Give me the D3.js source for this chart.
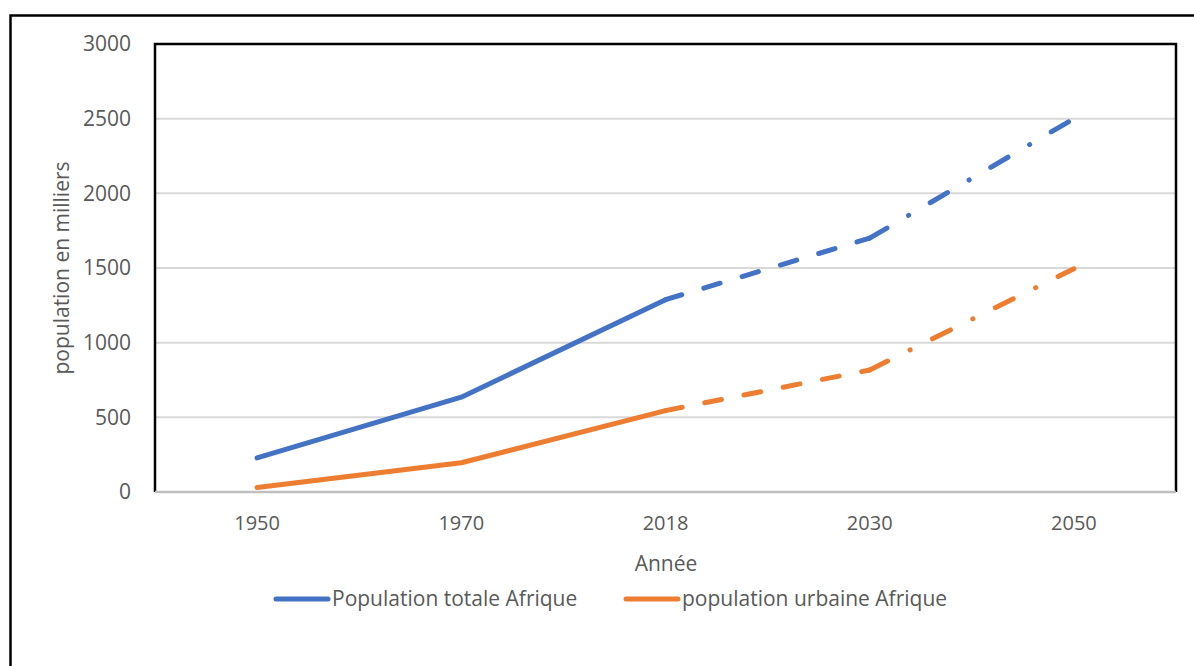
<!DOCTYPE html>
<html>
<head>
    <meta charset="utf-8"/>
    <style>
        body { margin: 0; background: #fff; }
        svg text { font-family: "Open Sans", "Noto Sans", sans-serif; fill: #595959; }
    </style>
</head>
<body>
<div id="chart"></div>
<script src="https://cdn.jsdelivr.net/npm/d3@7"></script>
<script type="text/javascript">

    // data
    var years = ["1950", "1970", "2018", "2030", "2050"];
    var totale = [228, 635, 1288, 1700, 2500];
    var urbaine = [30, 196, 545, 817, 1495];
    var yTicks = [0, 500, 1000, 1500, 2000, 2500, 3000];
    var seriesNames = ["Population totale Afrique", "population urbaine Afrique"];
    var colors = ["#4472C4", "#ED7D31"];

    var w = 1194;
    var h = 666;
    var plotLeft = 155, plotRight = 1176, plotTop = 44, plotBottom = 492;

    var svg = d3.select("#chart")
        .append("svg")
        .attr("width", w)
        .attr("height", h);

    // outer frame
    svg.append("rect")
        .attr("x", 10.5).attr("y", 15.5)
        .attr("width", 1300).attr("height", 800)
        .attr("fill", "none")
        .attr("stroke", "#000")
        .attr("stroke-width", 2.5);

    var xScale = d3.scaleBand()
        .domain(years)
        .range([plotLeft, plotRight]);

    var yScale = d3.scaleLinear()
        .domain([0, 3000])
        .range([plotBottom, plotTop]);

    function cx(i) {
        return xScale(years[i]) + xScale.bandwidth() / 2;
    }

    // gridlines
    svg.append("g")
        .selectAll("line")
        .data(yTicks.slice(1))
        .enter()
        .append("line")
        .attr("x1", plotLeft).attr("x2", plotRight)
        .attr("y1", function (d) { return yScale(d); })
        .attr("y2", function (d) { return yScale(d); })
        .attr("stroke", "#d9d9d9")
        .attr("stroke-width", 2);

    // plot border (left, top, right)
    svg.append("path")
        .attr("d", "M" + plotLeft + "," + plotBottom + "V" + plotTop + "H" + plotRight + "V" + plotBottom)
        .attr("fill", "none")
        .attr("stroke", "#000")
        .attr("stroke-width", 2.5);

    // x axis line
    svg.append("line")
        .attr("x1", plotLeft).attr("x2", plotRight)
        .attr("y1", plotBottom).attr("y2", plotBottom)
        .attr("stroke", "#bfbfbf")
        .attr("stroke-width", 2.5);

    // y tick labels
    var yAxis = d3.axisLeft(yScale).tickValues(yTicks).tickFormat(d3.format("d"))
        .tickSize(0).tickPadding(24);
    var gy = svg.append("g")
        .attr("transform", "translate(" + plotLeft + ",0)")
        .call(yAxis);
    gy.select(".domain").remove();
    gy.selectAll("text").attr("font-size", 21).attr("fill", "#595959")
        .attr("font-family", "Open Sans");

    // x tick labels
    var xAxis = d3.axisBottom(xScale).tickSize(0).tickPadding(24);
    var gx = svg.append("g")
        .attr("transform", "translate(0," + plotBottom + ")")
        .call(xAxis);
    gx.select(".domain").remove();
    gx.selectAll("text").attr("font-size", 20).attr("fill", "#595959")
        .attr("font-family", "Open Sans");

    // axis titles
    svg.append("text")
        .attr("x", 666).attr("y", 571)
        .attr("text-anchor", "middle")
        .attr("font-size", 21)
        .text("Année");

    svg.append("text")
        .attr("transform", "translate(69,268) rotate(-90)")
        .attr("text-anchor", "middle")
        .attr("font-size", 21)
        .text("population en milliers");

    // line segments: solid up to 2018, dashed to 2030, long dash dot to 2050
    var dashes = [null, null, null, "17,23", "20,25,0.1,25"];

    var line = d3.line()
        .x(function (d) { return cx(d.i); })
        .y(function (d) { return yScale(d.v); });

    [totale, urbaine].forEach(function (vals, s) {
        var pts = vals.map(function (v, i) { return {i: i, v: v}; });
        // solid part
        svg.append("path")
            .datum(pts.slice(0, 3))
            .attr("d", line)
            .attr("fill", "none")
            .attr("stroke", colors[s])
            .attr("stroke-width", 5)
            .attr("stroke-linecap", "round")
            .attr("stroke-linejoin", "round");
        for (var k = 3; k < pts.length; k++) {
            svg.append("path")
                .datum([pts[k - 1], pts[k]])
                .attr("d", line)
                .attr("fill", "none")
                .attr("stroke", colors[s])
                .attr("stroke-width", 5)
                .attr("stroke-linecap", "round")
                .attr("stroke-dasharray", dashes[k]);
        }
    });

    // legend
    var legendX = [276, 626];
    var legend = svg.append("g");
    seriesNames.forEach(function (name, s) {
        legend.append("line")
            .attr("x1", legendX[s]).attr("x2", legendX[s] + 52)
            .attr("y1", 599).attr("y2", 599)
            .attr("stroke", colors[s])
            .attr("stroke-width", 5)
            .attr("stroke-linecap", "round");
        legend.append("text")
            .attr("x", legendX[s] + 56).attr("y", 606)
            .attr("font-size", 21)
            .text(name);
    });

</script>
</body>
</html>
